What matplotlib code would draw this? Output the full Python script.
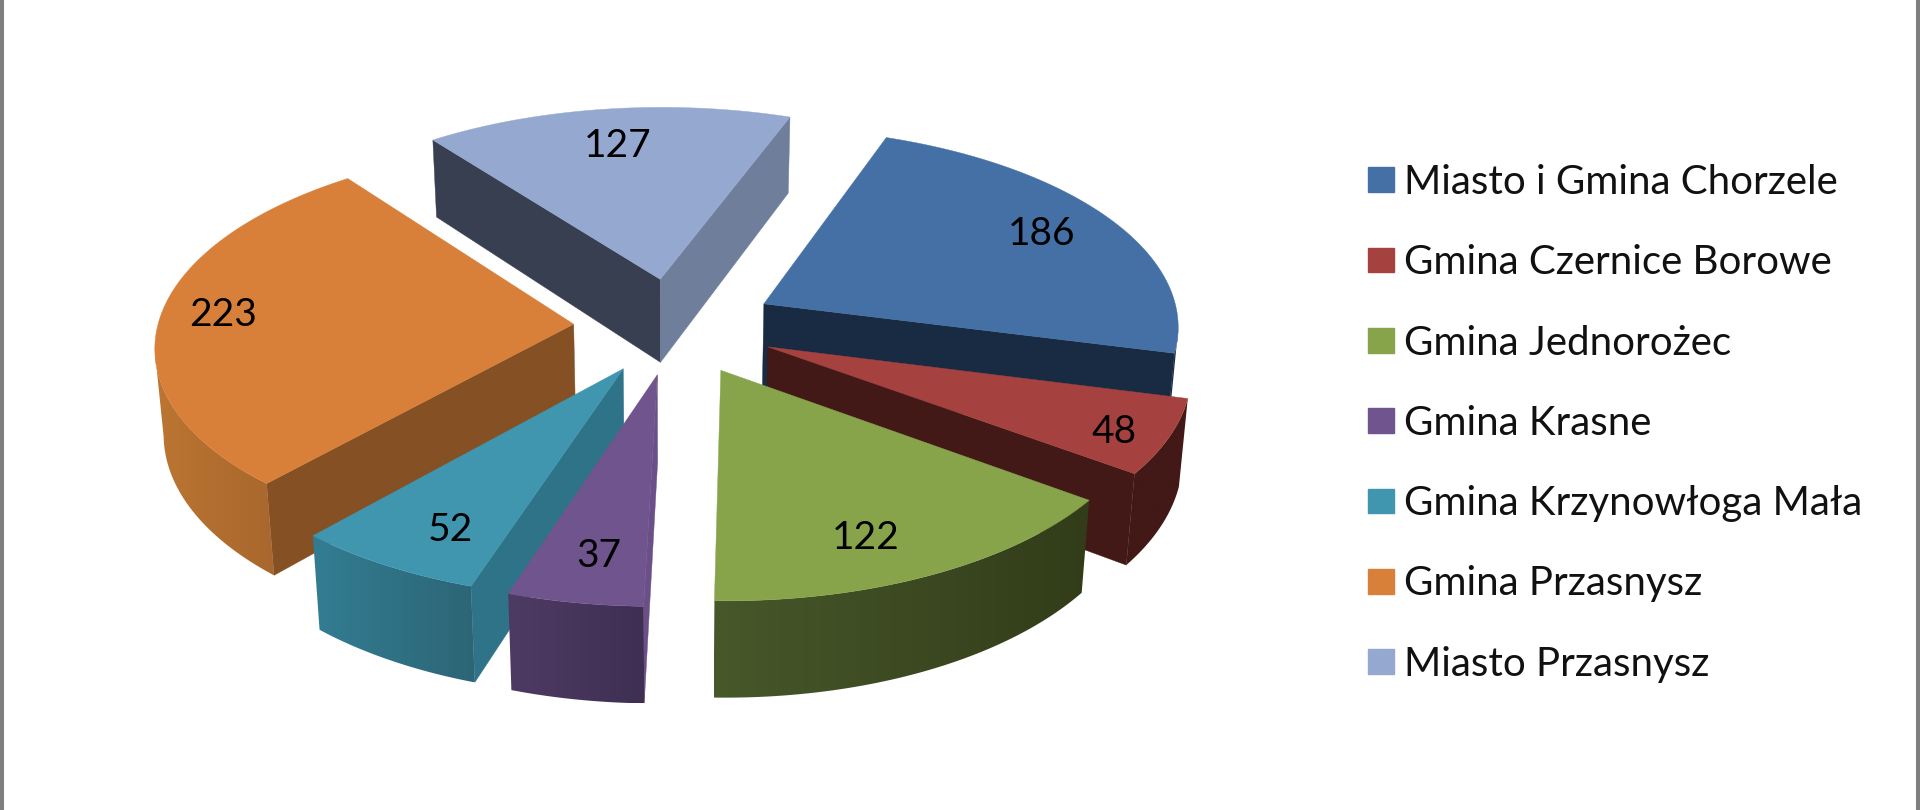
import numpy as np
import matplotlib
matplotlib.use("Agg")
import matplotlib.pyplot as plt
from matplotlib.colors import LinearSegmentedColormap
from matplotlib.patches import Patch, Polygon

plt.rcParams["font.family"] = ["Lato", "DejaVu Sans"]

categories = [
    "Miasto i Gmina Chorzele",
    "Gmina Czernice Borowe",
    "Gmina Jednorożec",
    "Gmina Krasne",
    "Gmina Krzynowłoga Mała",
    "Gmina Przasnysz",
    "Miasto Przasnysz",
]
values = [186, 48, 122, 37, 52, 223, 127]

top_colors = ["#4470A6", "#A5423F", "#87A44B", "#70548D", "#3F96AE", "#D8803A", "#94A8D0"]
start_wall = ["#192B42", "#421916", "#353F1B", "#6A4F88", "#2F7388", "#855023", "#383F50"]
end_wall = ["#192B42", "#421916", "#353F1B", "#3F2F53", "#2C6576", "#855023", "#6E7E9B"]
arc_left = ["#192B42", "#421916", "#47582A", "#4E3B64", "#337D93", "#BC7532", "#6E7E9B"]
arc_right = ["#192B42", "#421916", "#323C19", "#3F2F53", "#2C6576", "#A8672D", "#6E7E9B"]
label_frac = [0.80, 0.88, 0.81, 0.81, 0.81, 0.85, 0.77]
label_turn = [0, 2, 4, -1, -3, 1, 0]
# back to front
draw_order = [6, 0, 5, 1, 4, 3, 2]

START = 20.2
EXPLODE = 0.244
CX, CY = 675, 326
RX, RY, H = 416, 198, 85
PERSP = 0.10
CONV = 0.017
CAM_Y = -1 / PERSP


def project(x, y, z=0.0):
    w = 1 + PERSP * y
    return CX + RX * x / (w + CONV * z), CY - RY * y / w + H * z / w


def faces_camera(nx, ny, x, y):
    return nx * (0 - x) + ny * (CAM_Y - y) > 0


def draw_slice(ax, i, a0, a1, z):
    mid = np.radians((a0 + a1) / 2)
    ox, oy = EXPLODE * np.sin(mid), EXPLODE * np.cos(mid)
    th = np.radians(np.linspace(a0, a1, 120))
    xs = ox + np.sin(th)
    ys = oy + np.cos(th)

    # cut faces, only the ones turned to the viewer
    t0, t1 = th[0], th[-1]
    cuts = [
        (-np.cos(t0), np.sin(t0), xs[0], ys[0], start_wall[i]),
        (np.cos(t1), -np.sin(t1), xs[-1], ys[-1], end_wall[i]),
    ]
    for nx, ny, xe, ye, col in cuts:
        if faces_camera(nx, ny, ox, oy):
            pts = [project(ox, oy), project(xe, ye), project(xe, ye, 1), project(ox, oy, 1)]
            ax.add_patch(Polygon(pts, fc=col, ec=col, lw=0.3, zorder=z))

    # outer wall as a gradient clipped to its outline
    vis = faces_camera(np.sin(th), np.cos(th), xs, ys)
    if vis.any():
        upper = [project(a, b) for a, b in zip(xs[vis], ys[vis])]
        lower = [project(a, b, 1) for a, b in zip(xs[vis], ys[vis])]
        outline = np.array(upper + lower[::-1])
        wall = Polygon(outline, fc="none", ec="none", transform=ax.transData)
        ax.add_patch(wall)
        cmap = LinearSegmentedColormap.from_list("wall", [arc_left[i], arc_right[i]])
        img = ax.imshow(
            np.linspace(0, 1, 256).reshape(1, -1), cmap=cmap, aspect="auto", zorder=z + 0.1,
            extent=[outline[:, 0].min(), outline[:, 0].max(), outline[:, 1].max(), outline[:, 1].min()],
        )
        img.set_clip_path(wall)

    top = [project(ox, oy)] + [project(a, b) for a, b in zip(xs, ys)]
    ax.add_patch(Polygon(top, fc=top_colors[i], ec=top_colors[i], lw=0.3, zorder=z + 0.2))


fig = plt.figure(figsize=(19.2, 8.1), dpi=100)
ax = fig.add_axes([0, 0, 1, 1])
ax.axis("off")

angles = START + np.concatenate([[0], np.cumsum(values)]) / np.sum(values) * 360

for n, i in enumerate(draw_order):
    draw_slice(ax, i, angles[i], angles[i + 1], n + 1)

ax.set_xlim(0, 1920)
ax.set_ylim(810, 0)

for i, v in enumerate(values):
    mid = np.radians((angles[i] + angles[i + 1]) / 2)
    turned = mid + np.radians(label_turn[i])
    r = label_frac[i]
    lx, ly = project(EXPLODE * np.sin(mid) + r * np.sin(turned), EXPLODE * np.cos(mid) + r * np.cos(turned))
    ax.text(lx, ly, str(v), ha="center", va="center", fontsize=28, color="black", zorder=20)

handles = [Patch(fc=c, ec=c) for c in top_colors]
ax.legend(
    handles, categories, loc="upper left", bbox_to_anchor=(1368, 164),
    bbox_transform=ax.transData, frameon=False, fontsize=29, borderpad=0,
    borderaxespad=0, handlelength=0.64, handleheight=0.57, handletextpad=0.25,
    labelspacing=1.075, labelcolor="#111111",
)

# grey frame of the screenshot
for x in (2, 1918):
    ax.axvline(x, color="#7F7F7F", lw=2.9, zorder=21)

fig.savefig("out.png", dpi=100, facecolor="white")
